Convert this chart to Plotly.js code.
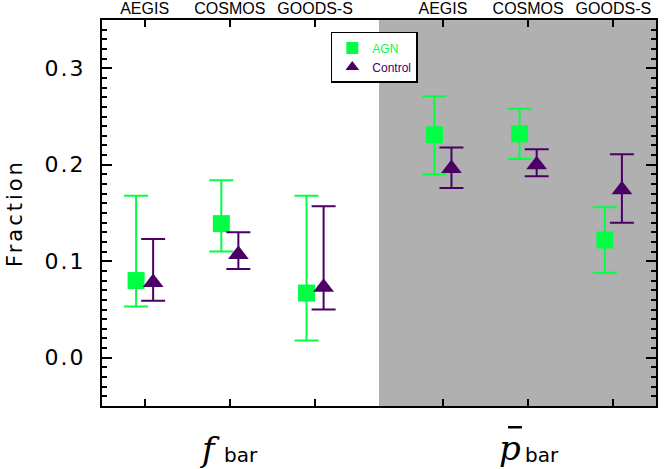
<!DOCTYPE html>
<html>
<head>
<meta charset="utf-8">
<script src="https://cdn.plot.ly/plotly-3.0.1.min.js"></script>
<style>
  html, body { margin: 0; padding: 0; background: #fff; }
  #chart { width: 669px; height: 469px; }
</style>
</head>
<body>
<div id="chart"></div>
<script>
// fields along the top axis, two groups (f_bar | p_bar)
const fields = ["AEGIS", "COSMOS", "GOODS-S", "AEGIS", "COSMOS", "GOODS-S"];
const groupPos = [1, 2, 3, 4.5, 5.5, 6.5];
const yTicks = [0.0, 0.1, 0.2, 0.3];
const yTickText = ["0.0", "0.1", "0.2", "0.3"];

// AGN hosts
const agnVal = [0.080, 0.139, 0.067, 0.231, 0.232, 0.122];
const agnHi  = [0.168, 0.184, 0.168, 0.271, 0.258, 0.156];
const agnLo  = [0.053, 0.110, 0.018, 0.190, 0.206, 0.088];

// control sample
const ctlVal = [0.078, 0.107, 0.073, 0.196, 0.200, 0.174];
const ctlHi  = [0.123, 0.130, 0.157, 0.218, 0.216, 0.211];
const ctlLo  = [0.059, 0.092, 0.050, 0.176, 0.188, 0.140];

const green = "#00ff44";
const purple = "#4b0066";

function errUp(v, hi) { return v.map((d, i) => hi[i] - d); }
function errDn(v, lo) { return v.map((d, i) => d - lo[i]); }
// the original font is wide and airy, so spread the letters a bit
function spaced(t, px) { return '<span style="letter-spacing:' + px + 'px">' + t + '</span>'; }

window.addEventListener('load', function () {
    let agn = {
        x: groupPos.map(p => p - 0.1),
        y: agnVal,
        type: "scatter",
        mode: "markers",
        name: '<span style="color:' + green + '">AGN</span>',
        marker: {symbol: "square", size: 17, color: green},
        error_y: {
            type: "data", symmetric: false,
            array: errUp(agnVal, agnHi), arrayminus: errDn(agnVal, agnLo),
            color: green, thickness: 2, width: 12,
        },
    };

    let ctl = {
        x: groupPos.map(p => p + 0.1),
        y: ctlVal,
        type: "scatter",
        mode: "markers",
        name: '<span style="color:' + purple + '">Control</span>',
        marker: {symbol: "triangle-up", size: 18, color: purple},
        error_y: {
            type: "data", symmetric: false,
            array: errUp(ctlVal, ctlHi), arrayminus: errDn(ctlVal, ctlLo),
            color: purple, thickness: 2, width: 12,
        },
    };

    let layout = {
        width: 669,
        height: 469,
        margin: {l: 102, r: 13, t: 20, b: 63},
        paper_bgcolor: "#fff",
        plot_bgcolor: "#fff",
        font: {family: "DejaVu Sans, sans-serif", color: "#000"},
        showlegend: true,
        legend: {
            x: 0.413, y: 0.969, xanchor: "left", yanchor: "top",
            bgcolor: "#fff", bordercolor: "#000", borderwidth: 1.5,
            font: {size: 12, family: "Liberation Sans, sans-serif"},
            itemsizing: "constant", tracegroupgap: 0,
        },
        xaxis: {
            range: [0.5, 7.0],
            side: "top",
            tickvals: groupPos,
            ticktext: fields,
            ticks: "inside", ticklen: 7, tickwidth: 2, tickcolor: "#000",
            tickfont: {size: 16, family: "Liberation Sans, sans-serif"},
            ticklabelstandoff: -2,
            showline: true, linewidth: 2, linecolor: "#000", mirror: "allticks",
            showgrid: false, zeroline: false,
        },
        yaxis: {
            range: [-0.05, 0.35],
            tickvals: yTicks,
            ticktext: yTickText.map(t => spaced(t, 2)),
            ticks: "inside", ticklen: 10, tickwidth: 2, tickcolor: "#000",
            tickfont: {size: 22},
            ticklabelstandoff: 10,
            minor: {dtick: 0.01, tick0: 0, ticks: "inside", ticklen: 5, tickwidth: 2, tickcolor: "#000"},
            showline: true, linewidth: 2, linecolor: "#000", mirror: "allticks",
            showgrid: false, zeroline: false,
            title: {text: spaced("Fraction", 3), font: {size: 21}, standoff: 16},
        },
        shapes: [
            {type: "rect", xref: "x", yref: "paper", x0: 3.75, x1: 7.0, y0: 0, y1: 1,
             fillcolor: "#b0b0b0", line: {width: 0}, layer: "below"},
            // bar over the p
            {type: "line", xref: "paper", yref: "paper", x0: 0.733, x1: 0.758, y0: -0.055, y1: -0.055,
             line: {color: "#000", width: 2.5}},
        ],
        annotations: [
            {xref: "paper", yref: "paper", x: 0.194, y: -0.112, text: "<i>f</i>", showarrow: false,
             font: {family: "DejaVu Serif, serif", size: 34}, xanchor: "center", yanchor: "middle"},
            {xref: "paper", yref: "paper", x: 0.216, y: -0.128, text: "bar", showarrow: false,
             font: {size: 20}, xanchor: "left", yanchor: "middle"},
            {xref: "paper", yref: "paper", x: 0.737, y: -0.110, text: "<i>p</i>", showarrow: false,
             font: {family: "DejaVu Serif, serif", size: 34}, xanchor: "center", yanchor: "middle"},
            {xref: "paper", yref: "paper", x: 0.760, y: -0.128, text: "bar", showarrow: false,
             font: {size: 20}, xanchor: "left", yanchor: "middle"},
        ],
    };

    let config = {displayModeBar: false, staticPlot: true};

    Plotly.newPlot("chart", [agn, ctl], layout, config);
});
</script>
</body>
</html>
